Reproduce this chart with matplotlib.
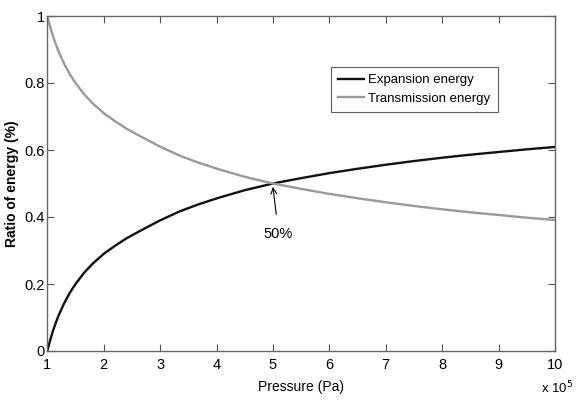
import matplotlib
matplotlib.use("Agg")
import matplotlib.pyplot as plt

plt.rcParams['font.family'] = ['Liberation Sans', 'DejaVu Sans']

# values (x in units of 1e5 Pa)
pressure = [1, 1.05, 1.1, 1.15, 1.2, 1.3, 1.4, 1.5, 1.65, 1.8, 2, 2.2, 2.4,
            2.65, 3, 3.35, 3.7, 4.05, 4.5, 5, 5.5, 6, 6.5, 7, 7.5, 8, 8.5,
            9, 9.5, 10]
expansion = [0, 0.032, 0.060, 0.084, 0.106, 0.143, 0.174, 0.200, 0.233,
             0.260, 0.290, 0.314, 0.336, 0.359, 0.390, 0.417, 0.439, 0.458,
             0.480, 0.500, 0.516, 0.531, 0.544, 0.556, 0.567, 0.577, 0.586,
             0.594, 0.602, 0.609]
transmission = [1, 0.968, 0.940, 0.916, 0.894, 0.857, 0.826, 0.800, 0.767,
                0.740, 0.710, 0.686, 0.664, 0.641, 0.610, 0.583, 0.561,
                0.542, 0.520, 0.500, 0.484, 0.469, 0.456, 0.444, 0.433,
                0.423, 0.414, 0.406, 0.398, 0.391]

xticks = [1, 2, 3, 4, 5, 6, 7, 8, 9, 10]
yticks = [0, 0.2, 0.4, 0.6, 0.8, 1]
ytick_labels = ['0', '0.2', '0.4', '0.6', '0.8', '1']

fig = plt.figure(figsize=(5.79, 4.0), dpi=100)
ax = fig.add_axes([0.0817, 0.1225, 0.8768, 0.8375])

ax.plot(pressure, expansion, color='#111111', lw=1.7, label='Expansion energy')
ax.plot(pressure, transmission, color='#9a9a9a', lw=1.7, label='Transmission energy')

ax.set_xlim(1, 10)
ax.set_ylim(0, 1)
ax.set_xticks(xticks)
ax.set_yticks(yticks)
ax.set_yticklabels(ytick_labels)
ax.tick_params(direction='in', top=True, right=True, length=5, width=0.8,
               color='#555555', labelsize=10.5)
ax.tick_params(axis='x', pad=5)
ax.tick_params(axis='y', pad=2)
for s in ax.spines.values():
    s.set_color('#666666')
    s.set_linewidth(1.0)

ax.set_xlabel('Pressure (Pa)', fontsize=10, labelpad=6)
ax.set_ylabel('Ratio of energy (%)', fontsize=10, fontweight='bold', labelpad=4)

leg = ax.legend(loc='upper left', bbox_to_anchor=(0.558, 0.848), fontsize=9.5,
                frameon=True, fancybox=False, edgecolor='#333333',
                handlelength=2.0, handletextpad=0.3, borderpad=0.55,
                labelspacing=0.45, borderaxespad=0)
leg.get_frame().set_linewidth(0.8)

# arrow pointing at the crossing point
ax.annotate('50%', xy=(5.0, 0.49), xytext=(5.1, 0.35), fontsize=10.5,
            ha='center', va='center',
            arrowprops=dict(arrowstyle='->', color='black', lw=0.8,
                            shrinkA=7, shrinkB=0))

fig.text(0.962, 0.03, r'x 10$^5$', fontsize=9.5, ha='center', va='center')

fig.savefig('out.png', dpi=100, facecolor='white')
